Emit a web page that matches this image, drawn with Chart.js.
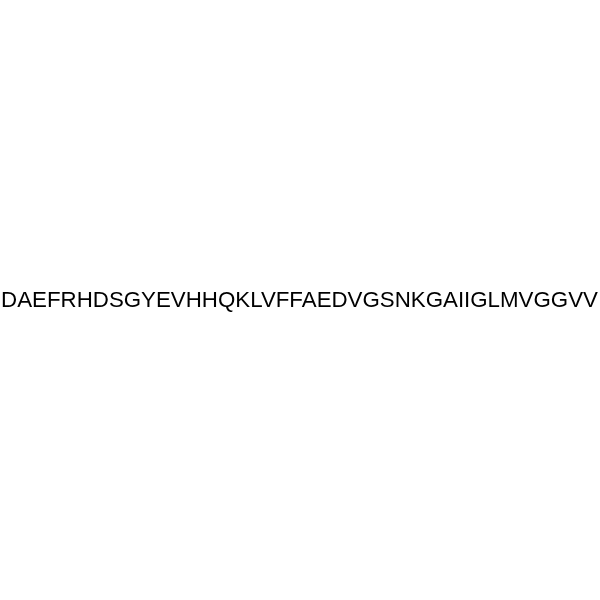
<!DOCTYPE html>
<html>
<head>
<meta charset="utf-8">
<script src="https://cdn.jsdelivr.net/npm/chart.js@4/dist/chart.umd.min.js"></script>
<style>
  html, body { margin: 0; padding: 0; background: #fff; }
  #wrap { width: 600px; height: 600px; }
</style>
</head>
<body>
<div id="wrap"><canvas id="seqChart" width="600" height="600"></canvas></div>
<script>
// Peptide sequence, one residue per entry
const residues = ['D','A','E','F','R','H','D','S','G','Y','E','V','H','H','Q','K','L','V','F','F',
                  'A','E','D','V','G','S','N','K','G','A','I','I','G','L','M','V','G','G','V','V'];
// single anchor point for the label
const anchorX = [0];
const anchorY = [0];

// draws the sequence text at the anchor point
const sequenceLabel = {
    id: 'sequenceLabel',
    afterDatasetsDraw(chart) {
        const ctx = chart.ctx;
        const meta = chart.getDatasetMeta(0);
        ctx.save();
        ctx.font = '22.3px "Liberation Sans", Arial, sans-serif';
        ctx.fillStyle = '#000000';
        ctx.textAlign = 'center';
        ctx.textBaseline = 'alphabetic';
        meta.data.forEach(function(pt) {
            ctx.fillText(residues.join(''), pt.x - 0.5, pt.y + 7);
        });
        ctx.restore();
    }
};

window.onload = function() {
    const ctx = document.getElementById('seqChart').getContext('2d');
    new Chart(ctx, {
        type: 'scatter',
        data: {
            datasets: [{
                data: anchorX.map((x, i) => ({ x: x, y: anchorY[i] })),
                pointRadius: 0,
                pointHoverRadius: 0
            }]
        },
        options: {
            responsive: false,
            animation: false,
            layout: { padding: 0 },
            scales: {
                x: { display: false, min: -1, max: 1 },
                y: { display: false, min: -1, max: 1 }
            },
            plugins: {
                legend: { display: false },
                tooltip: { enabled: false }
            }
        },
        plugins: [sequenceLabel]
    });
};
</script>
</body>
</html>
